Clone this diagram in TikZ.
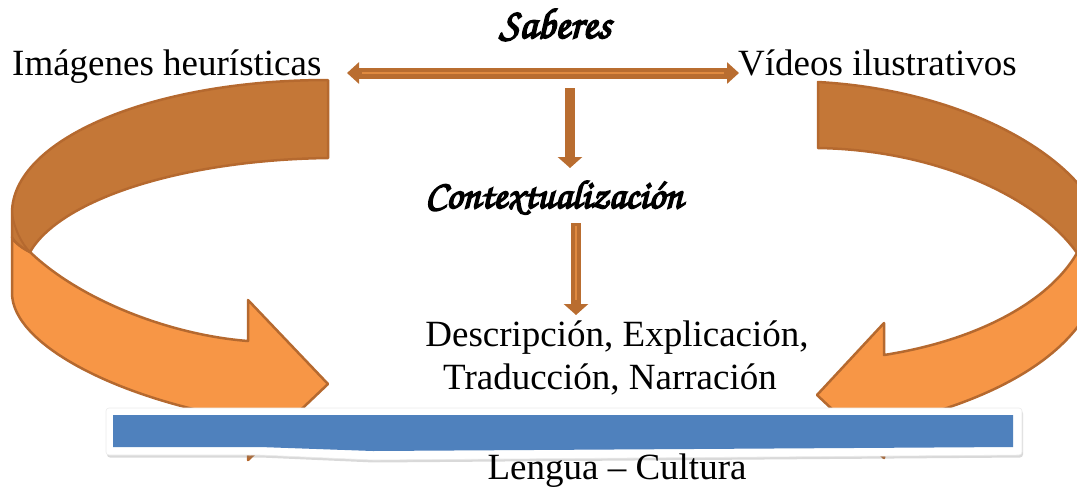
\documentclass[tikz,border=0pt]{standalone}
\usepackage[T1]{fontenc}
\usepackage{fontspec}
\setmainfont{Liberation Serif}
\usetikzlibrary{arrows.meta,shadows}
\definecolor{ordark}{HTML}{C47737}
\definecolor{orlight}{HTML}{F79646}
\definecolor{orline}{HTML}{B5692F}
\definecolor{arrc}{HTML}{B96D30}
\definecolor{arrhi}{HTML}{E08A40}
\definecolor{blu}{HTML}{4F81BD}
\newcommand{\scriptf}{\fontencoding{T1}\fontfamily{pzc}\fontseries{mb}\fontshape{it}\selectfont}
\newcommand{\heavy}[1]{\special{pdf:literal direct 2 Tr 1.6 w 0 G}#1\special{pdf:literal direct 0 Tr}}
\newcommand{\mainsz}{\fontsize{37}{44}\selectfont}
\begin{document}
\begin{tikzpicture}[x=1pt,y=-1pt,
  ribbonlight/.style={draw=orline, fill=orlight, line width=2.5pt, line join=round},
  ribbondark/.style={draw=orline, fill=ordark, line width=2.5pt, line join=round},
  ribbonedge/.style={draw=orline, line width=2pt},
  arrowline/.style={draw=arrc, line width=10pt, -{Triangle[width=24pt,length=11pt]}},
  hiline/.style={draw=arrhi, line width=1.5pt},
  label/.style={inner sep=0pt, font=\mainsz},
  scriptlabel/.style={inner sep=0pt}]
\useasboundingbox (0,0) rectangle (1077,488);
\begin{scope}
\clip (0,0) rectangle (1077,488);
% left ribbon
\draw[ribbonlight] (12,237) -- (12,293) .. controls (12,345) and (120,400) .. (248,420)
  -- (248,460) -- (328,384) -- (248,300) -- (248,341)
  .. controls (170,335) and (80,300) .. (30,252)
  .. controls (22,248) and (14,242) .. (12,237) -- cycle;
\draw[ribbondark] (328,80) .. controls (150,80) and (12,140) .. (12,213) -- (12,237)
  .. controls (14,242) and (22,248) .. (30,252)
  .. controls (60,200) and (180,160) .. (328,158) -- cycle;
\draw[ribbonedge] (12,213) .. controls (14,228) and (21,243) .. (30,252);
% right ribbon
\draw[ribbonlight] (1077,253) -- (1100,262) -- (1100,280) .. controls (1085,350) and (1000,400) .. (884,425)
  -- (884,458) -- (817,395) -- (884,323) -- (884,355)
  .. controls (980,340) and (1050,300) .. (1077,253) -- cycle;
\draw[ribbondark] (818,82) .. controls (960,90) and (1060,150) .. (1090,200) -- (1100,240)
  -- (1077,253) .. controls (1040,200) and (940,150) .. (818,148) -- cycle;
\end{scope}
% band
\path[fill=white, draw=black!8, line width=0.6pt, rounded corners=3pt,
  drop shadow={opacity=0.3, shadow xshift=1pt, shadow yshift=-2.5pt}]
  (106,408) -- (1022,408) -- (1022,455) -- (373,460) -- (260,455) -- (106,455) -- cycle;
\fill[blu] (113,415) -- (1013,415) -- (1013,447) -- (373,451) -- (260,447) -- (113,447) -- cycle;
% texts
\node[label, anchor=base west] (img) at (12,75) {Imágenes heurísticas};
\node[label, anchor=base west] (vid) at (738,75) {Vídeos ilustrativos};
\node[scriptlabel, anchor=base] (sab) at (555,38) {\fontsize{43}{48}\scriptf\heavy{Saberes}};
\node[scriptlabel, anchor=base] (ctx) at (554,208) {\fontsize{40}{46}\scriptf\heavy{Contextualizaci\'on}};
\node[label, anchor=base] (d1) at (617,346) {Descripción, Explicación,};
\node[label, anchor=base] (d2) at (610,389) {Traducción, Narración};
\node[label, anchor=base] (lc) at (617,479) {Lengua – Cultura};
% straight arrows
\coordinate (dl) at (347,73);
\coordinate (dr) at (739,73);
\draw[draw=arrc, line width=11pt, {Triangle[width=21pt,length=12pt]}-{Triangle[width=21pt,length=12pt]}] (dl) -- (dr);
\draw[hiline] (362,73) -- (724,73);
\coordinate (a1s) at (570,88);
\coordinate (a1e) at (570,168);
\draw[arrowline] (a1s) -- (a1e);
\coordinate (a2s) at (576,223);
\coordinate (a2e) at (576,315);
\draw[arrowline] (a2s) -- (a2e);
\draw[hiline] (576,226) -- (576,300);
\end{tikzpicture}
\end{document}
